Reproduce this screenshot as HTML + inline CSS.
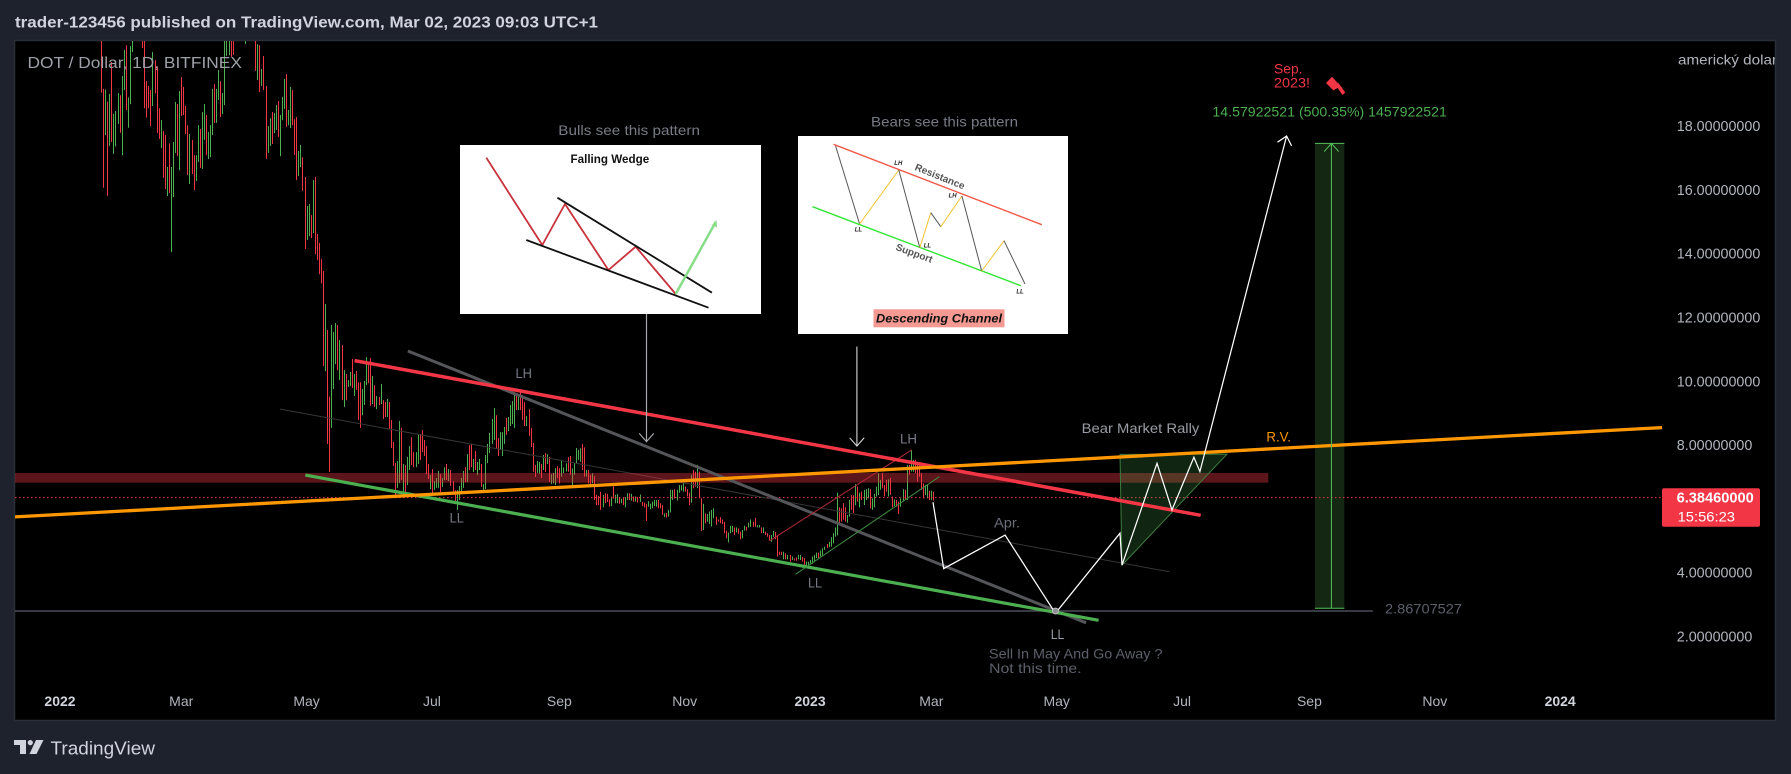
<!DOCTYPE html>
<html lang="en">
<head>
<meta charset="utf-8">
<title>DOT / Dollar chart</title>
<style>
html,body{margin:0;padding:0;background:#1e222d;width:1791px;height:774px;overflow:hidden}
svg{display:block}
text{font-family:"Liberation Sans",sans-serif;dominant-baseline:central}
</style>
</head>
<body>
<svg id="chart" xmlns="http://www.w3.org/2000/svg" width="1791" height="774" viewBox="0 0 1791 774">
  <defs><clipPath id="pane-clip"><rect x="15" y="41" width="1760" height="679"/></clipPath></defs>
  <rect x="0" y="0" width="1791" height="774" fill="#1e222d"/>
  <text x="15" y="23" font-size="16" font-weight="bold" fill="#d1d4dc" textLength="583" lengthAdjust="spacingAndGlyphs">trader-123456 published on TradingView.com, Mar 02, 2023 09:03 UTC+1</text>
  <rect x="14.5" y="40.5" width="1761" height="680" fill="#000" stroke="#2a2e39" stroke-width="1.5"/>

  <g clip-path="url(#pane-clip)">
    <g id="bars"></g>
    <g id="under-lines"></g>

    <g>
      <rect x="460" y="145" width="301" height="169" fill="#fff"/>
      <text x="570.5" y="159" font-size="12" font-weight="bold" fill="#111" textLength="78.7" lengthAdjust="spacingAndGlyphs">Falling Wedge</text>
      <polyline points="486.3,157.7 542.3,245 565,204 608.4,270 635.7,246.7 675.7,294" fill="none" stroke="#c8323c" stroke-width="1.8"/>
      <line x1="557.4" y1="197.7" x2="711.9" y2="292.7" stroke="#111" stroke-width="1.8"/>
      <line x1="526.3" y1="240" x2="708.5" y2="307.7" stroke="#111" stroke-width="1.8"/>
      <line x1="675.7" y1="294" x2="715.7" y2="222" stroke="#88dd88" stroke-width="2.5"/>
      <polygon points="716.5,220 717,227.5 712,225" fill="#88dd88"/>
    </g>

    <g>
      <rect x="798" y="136" width="270" height="198" fill="#fff"/>
      <line x1="833.5" y1="144.3" x2="1041.8" y2="224.7" stroke="#f05a4a" stroke-width="1.4"/>
      <line x1="812.5" y1="206.7" x2="1020.8" y2="285.7" stroke="#33e633" stroke-width="1.4"/>
      <g fill="none" stroke-width="1">
        <line x1="835.6" y1="146" x2="859.6" y2="224" stroke="#555"/>
        <line x1="859.6" y1="224" x2="898.8" y2="170" stroke="#f2c230"/>
        <line x1="898.8" y1="170" x2="919.8" y2="247.7" stroke="#555"/>
        <line x1="919.8" y1="247.7" x2="930.8" y2="212.7" stroke="#f2c230"/>
        <line x1="930.8" y1="212.7" x2="940.8" y2="226.7" stroke="#555"/>
        <line x1="940.8" y1="226.7" x2="961.9" y2="196" stroke="#f2c230"/>
        <line x1="961.9" y1="196" x2="981.7" y2="271" stroke="#555"/>
        <line x1="981.7" y1="271" x2="1004" y2="240.7" stroke="#f2c230"/>
        <line x1="1004" y1="240.7" x2="1025" y2="284" stroke="#555"/>
      </g>
      <text x="939.6" y="177.3" font-size="10" font-weight="bold" fill="#555" text-anchor="middle" transform="rotate(22 939.6 177.3)">Resistance</text>
      <text x="914" y="254" font-size="10" font-weight="bold" fill="#555" text-anchor="middle" transform="rotate(20 914 254)">Support</text>
      <g font-size="6" font-weight="bold" font-style="italic" fill="#222" text-anchor="middle">
        <text x="898.3" y="164">LH</text>
        <text x="952.6" y="196.7">LH</text>
        <text x="858.4" y="230.7">LL</text>
        <text x="927.4" y="246.7">LL</text>
        <text x="1020" y="292.3">LL</text>
      </g>
      <rect x="873.5" y="309.3" width="131" height="18" fill="#f49a92"/>
      <text x="876" y="318.3" font-size="12" font-weight="bold" font-style="italic" fill="#111" textLength="126" lengthAdjust="spacingAndGlyphs">Descending Channel</text>
    </g>

    <g id="over-lines"></g>

    <g font-size="14" fill="#787b86">
      <text x="558.3" y="130" textLength="141.7" lengthAdjust="spacingAndGlyphs">Bulls see this pattern</text>
      <text x="871" y="121.7" textLength="147" lengthAdjust="spacingAndGlyphs">Bears see this pattern</text>
      <text x="515.5" y="373" textLength="16.5" lengthAdjust="spacingAndGlyphs">LH</text>
      <text x="449.6" y="517.7" textLength="14.2" lengthAdjust="spacingAndGlyphs">LL</text>
      <text x="808" y="582.7" textLength="14" lengthAdjust="spacingAndGlyphs">LL</text>
      <text x="900" y="438.7" textLength="17" lengthAdjust="spacingAndGlyphs">LH</text>
      <text x="1050.7" y="634" textLength="13.6" lengthAdjust="spacingAndGlyphs" fill="#9a9da6">LL</text>
      <text x="994" y="522.3" textLength="26" lengthAdjust="spacingAndGlyphs" fill="#6a6d78">Apr.</text>
      <text x="989" y="653.3" textLength="173.5" lengthAdjust="spacingAndGlyphs" fill="#5d606b">Sell In May And Go Away ?</text>
      <text x="989" y="668" textLength="92.7" lengthAdjust="spacingAndGlyphs" fill="#5d606b">Not this time.</text>
      <text x="1081.7" y="428" textLength="117.6" lengthAdjust="spacingAndGlyphs" fill="#9a9da6">Bear Market Rally</text>
      <text x="1266.4" y="436.7" textLength="24.6" lengthAdjust="spacingAndGlyphs" fill="#ff9800">R.V.</text>
      <text x="1385" y="608.7" textLength="77" lengthAdjust="spacingAndGlyphs" fill="#5d606b">2.86707527</text>
      <text x="1274" y="68.3" textLength="28.5" lengthAdjust="spacingAndGlyphs" fill="#f23645">Sep.</text>
      <text x="1274" y="82.7" textLength="36" lengthAdjust="spacingAndGlyphs" fill="#f23645">2023!</text>
      <text x="1212.4" y="111.7" textLength="234.5" lengthAdjust="spacingAndGlyphs" fill="#4caf50">14.57922521 (500.35%) 1457922521</text>
    </g>

    <g fill="#f23645">
      <polygon points="1332,76.7 1340.5,86 1333.5,90.5 1326,83"/>
      <polygon points="1335.5,85 1338.5,83 1345.3,92.5 1342.5,95"/>
    </g>

    <text x="27.5" y="63.3" font-size="16" fill="#9da0a8" textLength="214.4" lengthAdjust="spacingAndGlyphs">DOT / Dollar, 1D, BITFINEX</text>
    <text x="1678" y="59.3" font-size="14" fill="#b2b5be" textLength="99" lengthAdjust="spacingAndGlyphs">americký dolar</text>
    <g id="price-axis"></g>
    <g id="time-axis"></g>

    <rect x="1662" y="488.3" width="98" height="38.4" rx="2" fill="#f23645"/>
    <text x="1676.6" y="498.7" font-size="14.3" font-weight="bold" fill="#fff" textLength="77.2" lengthAdjust="spacingAndGlyphs">6.38460000</text>
    <text x="1677.6" y="516.7" font-size="14" fill="#fff" textLength="57.4" lengthAdjust="spacingAndGlyphs">15:56:23</text>
  </g>

  <g fill="#d1d4dc">
    <polygon points="14,740 26,740 26,754 20,754 20,745 14,745"/>
    <circle cx="30.3" cy="742.6" r="2.6"/>
    <polygon points="36,740 43.5,740 36.5,754 29.5,754"/>
    <text x="50.5" y="748.7" font-size="18" fill="#d1d4dc" textLength="104.5" lengthAdjust="spacingAndGlyphs">TradingView</text>
  </g>
</svg>

<script>
const barStartDay = 20;
const barHighs = [
21.2,19.2,19.18,18.8,19.04,20.04,18.41,18.5,19.07,19.0,
19.6,20.42,20.57,18.93,20.54,21.2,22,22,22,22,
21,21.2,19.44,19.29,19.16,20.35,20.1,19.9,18.59,18.22,
17.88,17.75,16.75,17.49,16.75,17.53,18.79,18.72,19.13,19.57,
19.26,18.66,18.06,17.78,17.6,17.12,17.12,18.06,17.94,18.47,
18.72,18.38,17.85,18.06,19.2,19.35,19.2,19.79,19.44,19.07,
21,21.2,21.2,21.2,21.2,22,22,22,22,22,
21,22,22,22,22,21.2,20.6,20.57,19.82,20.23,
19.29,18.03,18.28,18.47,18.44,18.69,18.82,18.38,18.94,19.51,
19.66,18.54,19.26,19.16,18.25,18.32,17.25,17.44,17.06,16.44,
15.53,15.59,15.24,16.34,16.44,14.65,14.37,13.86,13.49,
12.45,11.64,9.55,11.8,11.58,11.86,11.8,11.33,11.17,10.38,
10.26,10.07,10.32,10.73,10.26,10.35,10.0,10.0,9.79,10.04,
10.79,10.54,10.76,10.2,9.91,9.57,9.54,9.95,9.44,9.38,
9.48,9.38,8.82,8.13,7.47,7.53,8.79,8.57,7.44,7.41,
7.66,8.0,8.28,7.81,7.81,8.35,8.38,8.5,8.19,8.0,
7.44,7.09,7.28,6.9,7.0,7.22,7.12,7.0,7.34,7.44,
7.28,7.25,6.9,6.62,6.62,6.75,7.0,7.22,7.34,7.75,
8.03,8.07,7.6,7.85,7.5,7.6,7.44,6.81,7.72,8.07,
8.41,8.85,9.19,8.97,8.25,8.44,8.44,8.6,8.88,8.91,
9.29,9.41,9.66,9.63,9.54,9.69,9.6,9.38,8.94,9.16,
8.57,8.1,7.41,7.53,7.5,7.44,7.72,7.78,7.75,7.66,
7.12,7.16,7.31,7.37,7.31,
7.57,7.33,7.46,7.65,7.69,7.3,7.46,7.94,7.88,7.93,
8.07,7.96,7.25,7.25,7.1,7.15,7.06,6.47,6.44,6.57,
6.47,6.52,6.5,6.33,6.42,6.81,6.47,6.5,6.4,6.35,
6.4,6.4,6.52,6.52,6.5,6.42,6.42,6.4,6.48,6.25,
6.23,6.19,6.27,6.19,6.26,6.31,6.31,6.31,6.21,6.15,
5.89,5.91,6.0,6.63,6.63,6.65,6.63,6.78,6.77,6.83,
6.73,6.65,6.54,7.1,7.25,7.2,7.41,7.2,6.36,6.19,
5.89,5.87,5.95,6.0,6.05,5.79,5.7,5.77,5.7,5.63,
5.35,5.29,5.5,5.5,5.45,5.45,5.42,5.32,5.37,5.5,
5.47,5.6,5.7,5.63,5.75,5.52,5.53,5.45,5.45,5.32,
5.27,5.21,5.21,5.34,5.31,5.21,4.69,4.69,4.69,4.64,
4.59,4.59,4.54,4.48,4.51,4.59,
4.59,4.52,4.49,4.38,4.38,4.43,4.54,4.59,4.66,4.66,4.73,4.8,
4.85,4.93,5.0,5.14,5.27,5.45,6.54,6.08,6.05,6.21,
6.08,5.84,6.31,6.46,6.46,6.81,6.73,6.54,6.57,6.63,
6.65,6.68,6.65,6.36,6.5,6.73,7.15,6.94,7.15,6.78,
6.94,6.96,7.0,6.42,6.33,6.31,6.26,6.36,6.65,6.63,
7.41,7.41,7.88,7.57,7.57,7.46,7.41,7.15,6.83,6.78,
6.78,6.6,6.6,6.57
];
const barLows = [
19.08,16.1,17.75,15.85,17.41,17.53,17.16,17.39,18.1,17.82,
17.12,19.16,18.54,17.98,18.72,20.35,21,21,21,21,
20.48,18.59,18.3,18.59,18.03,18.66,19.06,17.82,17.63,17.34,
16.41,16.06,15.84,15.94,14.08,15.81,17.19,17.09,16.65,18.35,
18.38,17.78,16.5,16.22,16.53,16.03,16.31,16.91,16.72,16.69,
17.6,17.12,17.0,17.06,17.75,18.13,18.13,18.85,18.32,18.41,
18.69,20.23,20.26,20.2,20.26,21,21,21,21,21,
20.6,21,21,21,21,19.76,19.48,19.1,19.29,19.16,
17.0,17.19,17.41,17.47,17.81,17.91,17.69,17.09,18.22,18.57,
18.0,18.06,17.97,18.06,17.12,16.34,16.47,16.75,16.0,14.18,
14.46,14.58,14.52,14.68,14.02,13.83,13.39,13.1,10.51,
10.35,8.07,7.19,8.57,9.79,10.57,10.38,10.07,9.44,9.23,
9.44,9.86,9.88,9.82,9.57,9.76,8.82,8.57,8.97,9.29,
9.91,9.97,9.26,9.32,9.23,9.16,9.29,9.32,8.85,8.91,
8.91,8.53,7.94,7.38,6.37,6.69,6.84,6.94,6.47,6.47,
6.78,7.25,7.41,7.34,7.34,7.44,7.56,7.81,7.69,7.12,
6.97,6.65,6.53,6.62,6.69,6.69,6.56,6.72,6.94,6.94,
6.9,6.75,6.5,6.28,6.0,6.31,6.59,6.69,6.87,6.87,
7.25,7.34,7.19,7.25,7.09,7.25,6.72,6.53,6.65,7.47,
7.78,8.07,8.19,7.91,7.69,7.88,7.69,8.07,8.35,8.47,
8.63,8.69,8.57,9.13,9.13,9.13,8.82,8.63,8.63,8.32,
7.97,7.19,7.03,7.16,7.13,7.0,7.25,7.19,7.44,6.87,
6.81,6.83,6.78,7.0,6.83,
7.04,7.15,7.2,7.2,7.1,6.78,7.1,7.46,7.57,7.51,
7.25,7.04,7.04,6.83,6.73,6.83,6.31,6.15,6.15,6.0,
6.08,6.21,6.25,6.1,6.12,6.36,6.21,6.21,6.19,6.21,
6.15,6.08,6.31,6.31,6.29,6.26,6.26,6.23,6.25,6.12,
6.08,5.65,6.1,6.02,6.05,6.12,6.1,6.05,6.05,5.84,
5.77,5.76,5.79,5.92,6.31,6.36,6.29,6.54,6.6,6.57,
6.57,6.42,6.15,6.23,6.68,6.73,6.68,6.36,5.34,5.37,
5.58,5.63,5.56,5.48,5.74,5.53,5.63,5.58,5.56,5.27,
5.11,4.98,5.27,5.3,5.21,5.29,5.25,5.08,5.11,5.35,
5.35,5.45,5.47,5.47,5.47,5.45,5.45,5.27,5.27,5.21,
5.16,5.04,5.0,5.16,5.08,4.54,4.59,4.59,4.45,4.45,
4.45,4.38,4.43,4.41,4.41,4.45,
4.43,4.38,4.22,4.22,4.25,4.31,4.31,4.38,4.49,4.49,4.54,4.56,
4.75,4.8,4.83,4.85,4.95,5.16,5.2,5.58,5.63,5.69,
5.63,5.6,5.79,6.0,5.9,6.15,6.26,6.08,6.31,6.15,
6.31,6.36,6.05,6.0,6.08,6.42,6.47,6.63,6.68,6.42,
6.57,6.42,6.47,6.08,6.12,6.1,5.87,6.1,6.26,6.31,
6.31,7.1,7.2,7.2,7.15,6.89,7.04,6.63,6.36,6.47,
6.36,6.31,6.31,6.29
];
const barDirections = (
"RRGRGRGGGR"+"GGRGGGGRGG"+"RRRRRGRRRG"+"RRGRGGGRGR"+"RRRGRRGGRG"+"GRGGGRGGRG"+"GGGRRGRGRG"+"GGRGRRGRGR"+"RGGRGGRGGG"+"RGGRRRGGRR"+"GGRGRRRRR"+
"GRRGGGRGRG"+"RGGRGRRRGG"+"GRRGRGRGRR"+"GRRRRGGRGR"+"GGRRGGRRRR"+"RGRGGGRGGR"+"GRRRGGGGRG"+"RRGRGGRGGG"+"GGGRRGGGRG"+"GGGRGRRRGR"+"RRRGGRGRGR"+"GGGRR"+
"GGGRRGGGGG"+"RRGRRGRRRR"+"GRRRGRGGRG"+"RGGRGRGRGR"+"RRGGGGGRRR"+"GRGGGRGGGG"+"RRRGRRGRRG"+"RGGGGRRRRR"+"RGGGRGRRGG"+"RGGRRGGRGR"+"RRGGRRRRGR"+"GRGRRG"+
"GRRGGGGGGRGG"+
"GRGGGGGRRR"+"RGGRRGRGRG"+"GGRGGGGGRR"+"RGRRGRRGGR"+"GRGGRRRRRG"+"GRGR"
).split("");

const priceTicks = [18,16,14,12,10,8,4,2];
const timeTickDays = [0,59,120,181,243,304,365,424,485,546,608,669,730];
const timeTickLabels = ["2022","Mar","May","Jul","Sep","Nov","2023","Mar","May","Jul","Sep","Nov","2024"];
const timeTickBold = [1,0,0,0,0,0,1,0,0,0,0,0,1];

const lastPrice = 6.3846;
const trendRed = [[143.3,10.68],[555.1,5.83]];
const trendGray = [[169.3,10.98],[499.3,2.46]];
const trendThin = [[107.1,9.16],[539.9,4.06]];
const trendOrange = [[-21.9,5.78],[779.6,8.58]];
const trendGreen = [[119.4,7.09],[505.4,2.54]];
const channelRed = [[345.3,5.03],[414.4,7.88]];
const channelGreen = [[357.9,3.98],[427.9,7.04]];
const levelLine = [[-21.9,2.83],[638.9,2.83]];
const resistanceZone = [-21.9,588,6.853,7.157];
const bullsArrow = [[285.4,12.14],[285.4,8.14]];
const bearsArrow = [[387.8,11.12],[387.8,8.0]];
const projectionPath = [[424.8,6.24],[430,4.16],[459.9,5.21],[484.4,2.76],[515.8,5.27],[516.8,4.27],[533.8,7.46],[541.1,6.0],[551.8,7.65],[554.7,7.2],[596.9,17.72]];
const rallyTriangle = [[515.8,7.74],[567.9,7.75],[516.8,4.27]];
const longPosition = [610.7,625,2.915,17.49];
const longPositionCentre = 618.7;
const projectionLow = [484.4,2.83];

const SVGNS = "http://www.w3.org/2000/svg";
function timeX(day){ return 60 + 2.055 * day; }
function priceY(price){ return 701.3 - 31.9 * price; }
function make(parent, tag, attrs){
  const el = document.createElementNS(SVGNS, tag);
  for (const k in attrs) el.setAttribute(k, attrs[k]);
  parent.appendChild(el);
  return el;
}
function pointsOf(pts){ return pts.map(function(p){ return timeX(p[0]).toFixed(1) + "," + priceY(p[1]).toFixed(1); }).join(" "); }

const barsGroup = document.getElementById("bars");
barHighs.forEach(function(high, i){
  const day = barStartDay + i;
  const top = priceY(high);
  const bottom = priceY(barLows[i]);
  const el = make(barsGroup, "rect", {x: Math.round(timeX(day)), y: top.toFixed(1), width: 1, height: Math.max(1, bottom - top).toFixed(1), fill: barDirections[i] === "G" ? "#4caf50" : "#f23645"});
  
  
});

const under = document.getElementById("under-lines");
const bandX = timeX(longPosition[0]);
const bandW = timeX(longPosition[1]) - bandX;
const bandTop = priceY(longPosition[3]);
const bandBottom = priceY(longPosition[2]);
const positionRect = make(under, "rect", {x: bandX, y: bandTop, width: bandW, height: bandBottom - bandTop, fill: "#132713"});



const over = document.getElementById("over-lines");
const priceLine = make(over, "line", {x1: 15, x2: 1662, y1: priceY(lastPrice), y2: priceY(lastPrice), stroke: "#f23645", "stroke-width": 1, "stroke-dasharray": "1.5 2.5"});



const level = make(over, "polyline", {points: pointsOf(levelLine), fill: "none", stroke: "#4a4d57", "stroke-width": 1.6});



const thinLine = make(over, "polyline", {points: pointsOf(trendThin), fill: "none", stroke: "#363636", "stroke-width": 1});



const zone = make(over, "rect", {x: timeX(resistanceZone[0]), y: priceY(resistanceZone[3]), width: timeX(resistanceZone[1]) - timeX(resistanceZone[0]), height: priceY(resistanceZone[2]) - priceY(resistanceZone[3]), fill: "rgba(242,54,69,0.38)"});



const triangle = make(over, "polygon", {points: pointsOf(rallyTriangle), fill: "rgba(76,175,80,0.22)", stroke: "#3d7a3f", "stroke-width": 1});



const grayLine = make(over, "polyline", {points: pointsOf(trendGray), fill: "none", stroke: "#55565a", "stroke-width": 3});



const greenLine = make(over, "polyline", {points: pointsOf(trendGreen), fill: "none", stroke: "#4caf50", "stroke-width": 3.2});



const redThin = make(over, "polyline", {points: pointsOf(channelRed), fill: "none", stroke: "#b02a3a", "stroke-width": 1});



const greenThin = make(over, "polyline", {points: pointsOf(channelGreen), fill: "none", stroke: "#3c8c3f", "stroke-width": 1});



const redLine = make(over, "polyline", {points: pointsOf(trendRed), fill: "none", stroke: "#f23645", "stroke-width": 3.5});



const orangeLine = make(over, "polyline", {points: pointsOf(trendOrange), fill: "none", stroke: "#ff9800", "stroke-width": 3.3});



function arrowLine(pts, color, width, name){
  const a = pts[pts.length - 2];
  const b = pts[pts.length - 1];
  const ax = timeX(a[0]), ay = priceY(a[1]), bx = timeX(b[0]), by = priceY(b[1]);
  const ang = Math.atan2(by - ay, bx - ax);
  const len = 11;
  const g = make(over, "g", {});
  
  
  const body = make(g, "polyline", {points: pointsOf(pts), fill: "none", stroke: color, "stroke-width": width, "stroke-linejoin": "miter"});
  
  
  const head = [
    [bx - len * Math.cos(ang - 0.72), by - len * Math.sin(ang - 0.72)],
    [bx, by],
    [bx - len * Math.cos(ang + 0.72), by - len * Math.sin(ang + 0.72)]
  ].map(function(p){ return p[0].toFixed(1) + "," + p[1].toFixed(1); }).join(" ");
  const headEl = make(g, "polyline", {points: head, fill: "none", stroke: color, "stroke-width": width});
  
  
}
arrowLine(bullsArrow, "#a5a7ad", 1.2, "bulls-arrow");
arrowLine(bearsArrow, "#d8d8d8", 1.1, "bears-arrow");
arrowLine(projectionPath, "#ffffff", 1.25, "projection-path");
arrowLine([[longPositionCentre, longPosition[2]], [longPositionCentre, longPosition[3]]], "#55c058", 1, "long-position-arrow");

const capTop = make(over, "line", {x1: bandX, x2: bandX + bandW, y1: bandTop, y2: bandTop, stroke: "#55c058", "stroke-width": 1});



const capBottom = make(over, "line", {x1: bandX, x2: bandX + bandW, y1: bandBottom, y2: bandBottom, stroke: "#55c058", "stroke-width": 1});



const lowMarker = make(over, "circle", {cx: timeX(projectionLow[0]), cy: priceY(projectionLow[1]), r: 3, fill: "#8d8f94", stroke: "#d0d0d0", "stroke-width": 0.8});



const priceAxis = document.getElementById("price-axis");
priceTicks.forEach(function(p){
  const t = make(priceAxis, "text", {x: 1676.8, y: priceY(p), "font-size": 14.3, fill: "#b2b5be"});
  
  
  t.textContent = p.toFixed(8);
});

const timeAxis = document.getElementById("time-axis");
timeTickDays.forEach(function(d, i){
  const t = make(timeAxis, "text", {x: timeX(d), y: 701, "font-size": 14, "text-anchor": "middle", fill: timeTickBold[i] ? "#d1d4dc" : "#b2b5be", "font-weight": timeTickBold[i] ? "bold" : "normal"});
  
  
  t.textContent = timeTickLabels[i];
});
</script>
</body>
</html>
